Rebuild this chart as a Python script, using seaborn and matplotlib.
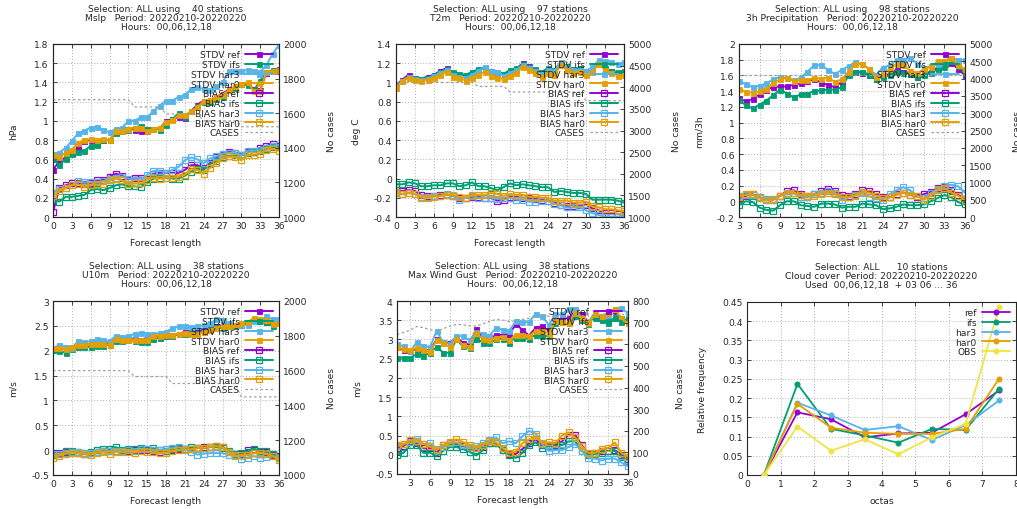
import matplotlib
matplotlib.use("Agg")
import matplotlib.pyplot as plt
import matplotlib.ticker as mticker
import numpy as np
import pandas as pd
import seaborn as sns

# ---- data -----------------------------------------------------------------
models = ['ref', 'ifs', 'har3', 'har0']
colors = {'ref': '#9400D3', 'ifs': '#009E73', 'har3': '#56B4E9',
          'har0': '#E69F00', 'OBS': '#F0E442'}

lead_0_36 = list(range(0, 37))
lead_3_36 = list(range(3, 37))
lead_1_36 = list(range(1, 37))

# Mslp
mslp_stdv_ref = [0.49, 0.58, 0.62, 0.67, 0.73, 0.79, 0.80, 0.77, 0.80, 0.80, 0.88, 0.90, 0.92, 0.91, 0.90, 0.90, 0.92, 0.92, 1.00, 1.02, 1.04, 1.03, 1.10, 1.17, 1.21, 1.22, 1.25, 1.28, 1.33, 1.35, 1.38, 1.38, 1.33, 1.32, 1.50, 1.52, 1.54]
mslp_stdv_ifs = [0.60, 0.54, 0.60, 0.66, 0.68, 0.69, 0.74, 0.75, 0.80, 0.80, 0.87, 0.89, 0.91, 0.93, 0.95, 0.92, 0.92, 0.91, 0.96, 1.02, 1.08, 1.04, 1.10, 1.15, 1.20, 1.20, 1.23, 1.25, 1.32, 1.34, 1.38, 1.37, 1.32, 1.42, 1.51, 1.53, 1.52]
mslp_stdv_har3 = [0.66, 0.67, 0.72, 0.79, 0.87, 0.90, 0.93, 0.94, 0.91, 0.88, 0.92, 0.93, 1.00, 1.00, 1.04, 1.04, 1.10, 1.16, 1.21, 1.21, 1.25, 1.27, 1.33, 1.35, 1.33, 1.32, 1.36, 1.40, 1.52, 1.52, 1.52, 1.53, 1.52, 1.51, 1.58, 1.70, 1.79]
mslp_stdv_har0 = [0.64, 0.62, 0.67, 0.70, 0.77, 0.80, 0.81, 0.80, 0.81, 0.80, 0.89, 0.90, 0.92, 0.93, 0.93, 0.89, 0.92, 0.93, 0.99, 1.01, 1.06, 1.06, 1.10, 1.14, 1.21, 1.22, 1.25, 1.27, 1.32, 1.36, 1.38, 1.40, 1.31, 1.31, 1.51, 1.52, 1.53]
mslp_bias_ref = [0.05, 0.30, 0.33, 0.35, 0.35, 0.34, 0.35, 0.38, 0.39, 0.42, 0.45, 0.43, 0.39, 0.41, 0.41, 0.40, 0.45, 0.46, 0.46, 0.46, 0.46, 0.49, 0.54, 0.54, 0.51, 0.56, 0.62, 0.65, 0.68, 0.67, 0.65, 0.68, 0.68, 0.72, 0.74, 0.76, 0.74]
mslp_bias_ifs = [0.19, 0.16, 0.21, 0.21, 0.22, 0.23, 0.28, 0.29, 0.28, 0.30, 0.33, 0.34, 0.32, 0.32, 0.31, 0.36, 0.40, 0.41, 0.41, 0.40, 0.40, 0.43, 0.47, 0.50, 0.49, 0.55, 0.58, 0.62, 0.63, 0.64, 0.64, 0.67, 0.68, 0.69, 0.71, 0.73, 0.73]
mslp_bias_har3 = [0.25, 0.29, 0.30, 0.33, 0.37, 0.36, 0.36, 0.36, 0.37, 0.40, 0.41, 0.42, 0.40, 0.39, 0.38, 0.44, 0.48, 0.48, 0.46, 0.49, 0.52, 0.59, 0.62, 0.60, 0.56, 0.61, 0.63, 0.66, 0.67, 0.67, 0.64, 0.69, 0.69, 0.70, 0.72, 0.74, 0.75]
mslp_bias_har0 = [0.22, 0.27, 0.30, 0.33, 0.34, 0.31, 0.33, 0.34, 0.34, 0.38, 0.40, 0.38, 0.34, 0.35, 0.35, 0.39, 0.41, 0.40, 0.41, 0.41, 0.42, 0.44, 0.50, 0.49, 0.45, 0.51, 0.56, 0.61, 0.63, 0.62, 0.59, 0.64, 0.65, 0.66, 0.70, 0.71, 0.69]
mslp_cases = [1678] * 13 + [1636] * 5 + [1596] * 6 + [1556] * 6 + [1522] * 7

# T2m
t2m_stdv_ref = [0.97, 1.03, 1.08, 1.05, 1.04, 1.06, 1.08, 1.12, 1.15, 1.10, 1.08, 1.07, 1.10, 1.13, 1.15, 1.12, 1.10, 1.08, 1.12, 1.14, 1.20, 1.17, 1.13, 1.10, 1.14, 1.12, 1.20, 1.16, 1.13, 1.15, 1.11, 1.13, 1.20, 1.14, 1.12, 1.10, 1.11]
t2m_stdv_ifs = [0.96, 1.02, 1.06, 1.05, 1.04, 1.05, 1.08, 1.11, 1.14, 1.11, 1.09, 1.08, 1.11, 1.14, 1.15, 1.12, 1.11, 1.09, 1.13, 1.15, 1.19, 1.16, 1.14, 1.11, 1.15, 1.13, 1.21, 1.17, 1.14, 1.15, 1.12, 1.14, 1.21, 1.15, 1.12, 1.11, 1.12]
t2m_stdv_har3 = [0.95, 1.02, 1.06, 1.04, 1.03, 1.04, 1.07, 1.10, 1.13, 1.08, 1.06, 1.05, 1.08, 1.12, 1.16, 1.12, 1.11, 1.07, 1.10, 1.13, 1.18, 1.15, 1.12, 1.09, 1.13, 1.12, 1.21, 1.16, 1.13, 1.13, 1.12, 1.16, 1.23, 1.22, 1.21, 1.19, 1.21]
t2m_stdv_har0 = [0.94, 1.01, 1.05, 1.03, 1.02, 1.03, 1.05, 1.08, 1.11, 1.06, 1.05, 1.02, 1.05, 1.08, 1.11, 1.07, 1.05, 1.04, 1.07, 1.10, 1.16, 1.13, 1.10, 1.06, 1.10, 1.08, 1.18, 1.13, 1.10, 1.11, 1.08, 1.11, 1.19, 1.13, 1.10, 1.07, 1.08]
t2m_bias_ref = [-0.12, -0.13, -0.12, -0.13, -0.17, -0.18, -0.18, -0.17, -0.17, -0.18, -0.20, -0.20, -0.19, -0.19, -0.20, -0.20, -0.23, -0.22, -0.19, -0.19, -0.20, -0.20, -0.21, -0.22, -0.23, -0.25, -0.27, -0.29, -0.29, -0.28, -0.27, -0.31, -0.33, -0.36, -0.36, -0.37, -0.38]
t2m_bias_ifs = [-0.06, -0.06, -0.04, -0.05, -0.08, -0.08, -0.07, -0.07, -0.05, -0.05, -0.08, -0.07, -0.04, -0.08, -0.08, -0.10, -0.12, -0.09, -0.05, -0.07, -0.06, -0.07, -0.08, -0.09, -0.09, -0.14, -0.13, -0.14, -0.15, -0.15, -0.16, -0.22, -0.22, -0.22, -0.22, -0.23, -0.25]
t2m_bias_har3 = [-0.15, -0.16, -0.15, -0.16, -0.19, -0.19, -0.18, -0.18, -0.16, -0.18, -0.22, -0.20, -0.18, -0.20, -0.20, -0.20, -0.21, -0.20, -0.20, -0.22, -0.22, -0.24, -0.24, -0.23, -0.23, -0.26, -0.28, -0.30, -0.30, -0.30, -0.33, -0.36, -0.38, -0.40, -0.40, -0.40, -0.39]
t2m_bias_har0 = [-0.14, -0.16, -0.15, -0.16, -0.20, -0.20, -0.19, -0.18, -0.17, -0.17, -0.19, -0.20, -0.17, -0.17, -0.17, -0.15, -0.16, -0.18, -0.16, -0.17, -0.17, -0.19, -0.19, -0.20, -0.20, -0.23, -0.23, -0.23, -0.25, -0.25, -0.24, -0.29, -0.30, -0.32, -0.32, -0.33, -0.34]
t2m_cases = [4110] * 13 + [4020] * 5 + [3890] * 12 + [3690] * 7

# 3h Precipitation
pcp_stdv_ref = [1.31, 1.27, 1.30, 1.36, 1.42, 1.45, 1.46, 1.46, 1.48, 1.50, 1.53, 1.55, 1.51, 1.48, 1.45, 1.52, 1.62, 1.65, 1.63, 1.60, 1.55, 1.60, 1.62, 1.67, 1.65, 1.63, 1.58, 1.62, 1.65, 1.70, 1.74, 1.76, 1.68, 1.60]
pcp_stdv_ifs = [1.29, 1.22, 1.18, 1.23, 1.28, 1.35, 1.42, 1.37, 1.32, 1.36, 1.37, 1.40, 1.41, 1.42, 1.42, 1.45, 1.60, 1.65, 1.65, 1.61, 1.56, 1.58, 1.60, 1.65, 1.63, 1.62, 1.58, 1.60, 1.63, 1.68, 1.71, 1.78, 1.72, 1.63]
pcp_stdv_har3 = [1.53, 1.49, 1.45, 1.47, 1.50, 1.55, 1.58, 1.57, 1.54, 1.57, 1.65, 1.73, 1.73, 1.67, 1.62, 1.67, 1.72, 1.77, 1.74, 1.68, 1.61, 1.70, 1.73, 1.80, 1.80, 1.82, 1.75, 1.70, 1.72, 1.74, 1.76, 1.82, 1.80, 1.80]
pcp_stdv_har0 = [1.43, 1.39, 1.38, 1.40, 1.43, 1.50, 1.55, 1.57, 1.53, 1.54, 1.54, 1.57, 1.56, 1.57, 1.52, 1.55, 1.65, 1.75, 1.75, 1.68, 1.58, 1.62, 1.68, 1.75, 1.73, 1.66, 1.63, 1.68, 1.71, 1.78, 1.79, 1.82, 1.73, 1.68]
pcp_bias_ref = [0.04, 0.07, 0.09, 0.05, 0.02, 0.02, 0.07, 0.13, 0.14, 0.09, 0.07, 0.09, 0.13, 0.16, 0.13, 0.08, 0.07, 0.09, 0.14, 0.13, 0.09, 0.06, 0.05, 0.09, 0.11, 0.08, 0.06, 0.09, 0.12, 0.17, 0.18, 0.14, 0.08, 0.03]
pcp_bias_ifs = [-0.05, 0.00, -0.01, -0.08, -0.11, -0.12, -0.05, 0.00, 0.00, -0.05, -0.06, -0.07, -0.03, -0.03, -0.04, -0.08, -0.07, -0.07, -0.03, -0.04, -0.05, -0.10, -0.09, -0.07, -0.04, -0.05, -0.05, -0.04, 0.00, 0.04, 0.08, 0.05, -0.01, -0.04]
pcp_bias_har3 = [0.07, 0.08, 0.08, 0.05, 0.03, 0.03, 0.07, 0.09, 0.10, 0.06, 0.05, 0.09, 0.11, 0.13, 0.11, 0.02, 0.05, 0.08, 0.10, 0.06, 0.04, 0.02, 0.09, 0.14, 0.18, 0.14, 0.07, 0.04, 0.10, 0.16, 0.20, 0.21, 0.19, 0.11]
pcp_bias_har0 = [0.05, 0.09, 0.09, 0.04, 0.01, 0.02, 0.07, 0.11, 0.11, 0.08, 0.07, 0.07, 0.09, 0.11, 0.09, 0.06, 0.05, 0.07, 0.12, 0.11, 0.07, 0.04, 0.05, 0.08, 0.11, 0.08, 0.07, 0.02, 0.07, 0.14, 0.17, 0.11, 0.07, 0.02]
pcp_cases = [4110] * 34

# U10m
u10_stdv_ref = [2.04, 2.06, 2.03, 2.07, 2.10, 2.12, 2.13, 2.16, 2.16, 2.14, 2.25, 2.22, 2.24, 2.24, 2.22, 2.26, 2.28, 2.28, 2.29, 2.31, 2.34, 2.38, 2.37, 2.40, 2.42, 2.46, 2.50, 2.51, 2.52, 2.50, 2.51, 2.56, 2.61, 2.61, 2.57, 2.55, 2.57]
u10_stdv_ifs = [2.02, 2.00, 1.96, 2.04, 2.07, 2.07, 2.08, 2.09, 2.10, 2.12, 2.19, 2.20, 2.21, 2.20, 2.17, 2.17, 2.24, 2.26, 2.30, 2.29, 2.33, 2.34, 2.35, 2.36, 2.38, 2.43, 2.47, 2.46, 2.50, 2.50, 2.52, 2.57, 2.62, 2.61, 2.57, 2.50, 2.57]
u10_stdv_har3 = [2.05, 2.12, 2.08, 2.06, 2.19, 2.17, 2.19, 2.23, 2.21, 2.19, 2.30, 2.28, 2.29, 2.34, 2.36, 2.34, 2.33, 2.35, 2.38, 2.45, 2.49, 2.50, 2.47, 2.49, 2.51, 2.55, 2.63, 2.61, 2.56, 2.51, 2.52, 2.51, 2.60, 2.60, 2.69, 2.63, 2.63]
u10_stdv_har0 = [2.06, 2.05, 2.04, 2.08, 2.12, 2.11, 2.13, 2.14, 2.14, 2.12, 2.24, 2.22, 2.21, 2.22, 2.21, 2.22, 2.30, 2.30, 2.31, 2.31, 2.34, 2.35, 2.33, 2.33, 2.37, 2.41, 2.46, 2.50, 2.50, 2.51, 2.55, 2.58, 2.66, 2.64, 2.62, 2.54, 2.55]
u10_bias_ref = [-0.06, -0.06, -0.04, -0.04, -0.06, -0.08, -0.06, -0.03, -0.02, -0.02, -0.02, -0.02, -0.01, 0.00, 0.00, 0.00, -0.02, -0.04, -0.02, 0.01, 0.03, 0.03, 0.02, 0.04, 0.06, 0.06, 0.08, 0.07, -0.04, -0.08, -0.07, 0.00, 0.01, -0.04, -0.03, -0.10, -0.12]
u10_bias_ifs = [-0.10, -0.07, -0.01, -0.02, -0.03, -0.06, -0.04, 0.00, 0.02, 0.02, 0.06, 0.01, 0.02, 0.02, 0.04, 0.03, 0.04, 0.00, -0.02, 0.02, 0.04, 0.02, 0.06, 0.05, 0.04, 0.07, 0.06, 0.05, -0.02, -0.07, -0.06, -0.03, 0.03, -0.02, -0.02, -0.08, -0.13]
u10_bias_har3 = [-0.08, -0.07, -0.06, -0.03, -0.04, -0.05, -0.05, -0.04, -0.02, -0.02, -0.01, -0.01, 0.00, -0.01, 0.02, 0.02, 0.00, 0.00, 0.02, 0.04, 0.06, 0.03, -0.03, -0.09, -0.07, -0.06, -0.06, -0.06, -0.09, -0.10, -0.18, -0.15, -0.12, -0.15, -0.14, -0.12, -0.15]
u10_bias_har0 = [-0.15, -0.11, -0.07, -0.05, -0.06, -0.08, -0.09, -0.05, -0.04, -0.07, -0.03, -0.04, -0.03, -0.05, -0.02, -0.03, -0.04, -0.05, -0.05, -0.01, 0.00, 0.00, 0.02, 0.04, 0.05, 0.06, 0.08, 0.06, -0.03, -0.12, -0.10, -0.09, -0.06, -0.05, -0.08, -0.12, -0.20]
u10_cases = [1600] * 13 + [1566] * 6 + [1526] * 11 + [1449] * 7

# Max Wind Gust
gust_stdv_ref = [2.80, 2.72, 2.70, 2.75, 2.72, 2.72, 3.00, 2.93, 2.92, 3.05, 2.92, 2.86, 3.28, 3.05, 3.00, 3.12, 3.12, 3.12, 3.40, 3.25, 3.10, 3.30, 3.35, 3.22, 3.50, 3.55, 3.55, 3.75, 3.65, 3.45, 3.60, 3.60, 3.70, 3.75, 3.55, 3.45]
gust_stdv_ifs = [2.52, 2.53, 2.52, 2.62, 2.58, 2.65, 2.80, 2.66, 2.65, 3.00, 2.82, 2.77, 3.02, 2.92, 2.90, 3.00, 3.02, 2.92, 3.05, 3.05, 3.02, 3.12, 3.10, 3.08, 3.42, 3.45, 3.42, 3.60, 3.50, 3.40, 3.62, 3.50, 3.42, 3.58, 3.45, 3.55]
gust_stdv_har3 = [2.88, 2.82, 2.70, 2.93, 2.83, 2.80, 3.22, 2.93, 2.88, 3.10, 3.08, 2.98, 3.20, 3.15, 3.10, 3.30, 3.25, 3.22, 3.48, 3.45, 3.45, 3.67, 3.60, 3.38, 3.65, 3.65, 3.80, 3.80, 3.55, 3.45, 3.70, 3.60, 3.60, 3.80, 3.82, 3.68]
gust_stdv_har0 = [2.80, 2.75, 2.73, 2.78, 2.73, 2.68, 2.98, 2.90, 2.80, 3.02, 2.86, 2.80, 3.18, 3.00, 2.98, 3.05, 3.07, 2.98, 3.12, 3.12, 3.08, 3.22, 3.22, 3.15, 3.48, 3.45, 3.42, 3.70, 3.55, 3.42, 3.65, 3.62, 3.68, 3.80, 3.55, 3.42]
gust_bias_ref = [0.18, 0.23, 0.35, 0.30, 0.17, 0.17, 0.05, 0.25, 0.30, 0.30, 0.22, 0.20, 0.12, 0.20, 0.30, 0.30, 0.12, 0.02, 0.02, 0.15, 0.30, 0.40, 0.25, 0.25, 0.25, 0.35, 0.52, 0.52, 0.25, 0.02, 0.05, 0.10, 0.10, 0.12, 0.00, -0.10]
gust_bias_ifs = [0.00, 0.05, 0.25, 0.25, 0.05, 0.05, -0.03, 0.10, 0.20, 0.20, 0.15, 0.08, -0.02, 0.12, 0.30, 0.30, 0.12, 0.00, -0.08, 0.05, 0.25, 0.32, 0.18, 0.22, 0.22, 0.25, 0.35, 0.35, 0.10, 0.00, 0.02, 0.05, 0.10, 0.10, -0.05, -0.15]
gust_bias_har3 = [0.22, 0.27, 0.32, 0.42, 0.28, 0.30, 0.15, 0.20, 0.30, 0.32, 0.25, 0.20, 0.22, 0.30, 0.38, 0.45, 0.30, 0.35, 0.30, 0.48, 0.62, 0.55, 0.28, 0.10, 0.12, 0.12, 0.20, 0.28, 0.10, -0.08, -0.10, -0.15, -0.10, -0.10, -0.20, -0.30]
gust_bias_har0 = [0.25, 0.28, 0.38, 0.37, 0.28, 0.22, 0.12, 0.25, 0.32, 0.40, 0.33, 0.25, 0.18, 0.25, 0.35, 0.32, 0.18, 0.05, 0.08, 0.30, 0.40, 0.48, 0.30, 0.32, 0.30, 0.50, 0.58, 0.45, 0.22, 0.05, 0.05, 0.15, 0.18, 0.32, 0.05, -0.05]
gust_cases = [645, 655, 665, 682, 677, 668, 660, 672, 684, 692, 690, 685, 684, 694, 705, 715, 712, 705, 708, 715, 720, 725, 730, 730, 730, 732, 732, 734, 734, 735, 735, 736, 736, 737, 737, 738]

# Cloud cover
octas = [0.5, 1.5, 2.5, 3.5, 4.5, 5.5, 6.5, 7.5]
cc_ref = [0.0, 0.163, 0.145, 0.098, 0.108, 0.110, 0.158, 0.220]
cc_ifs = [0.0, 0.237, 0.120, 0.103, 0.084, 0.120, 0.117, 0.225]
cc_har3 = [0.0, 0.188, 0.155, 0.117, 0.127, 0.091, 0.130, 0.194]
cc_har0 = [0.0, 0.185, 0.123, 0.110, 0.107, 0.107, 0.120, 0.251]
cc_obs = [0.0, 0.126, 0.063, 0.093, 0.054, 0.098, 0.133, 0.438]

# ---- style ----------------------------------------------------------------
sns.set_style("ticks")
plt.rcParams['font.family'] = ['DejaVu Sans']
FS = 6.6
plt.rcParams['font.size'] = FS
plt.rcParams['axes.linewidth'] = 0.8

W, H = 1017, 510
fig = plt.figure(figsize=(W / 100, H / 100), dpi=100)


def add_axes(l, t, r, b):
    return fig.add_axes([l / W, 1 - b / H, (r - l) / W, (b - t) / H])


gfmt = mticker.FuncFormatter(lambda v, p: '%g' % round(v, 6))


def style_axes(ax, xlim, xticks, ylim, yticks):
    ax.set_xlim(*xlim)
    ax.set_ylim(*ylim)
    ax.set_xticks(xticks)
    ax.set_yticks(yticks)
    ax.xaxis.set_major_formatter(gfmt)
    ax.yaxis.set_major_formatter(gfmt)
    ax.grid(True, ls=(0, (1, 2)), color='#b0b0b0', lw=0.7)
    ax.tick_params(direction='in', length=3, width=0.6, top=True, right=False,
                   labelsize=FS, pad=3)
    for s in ax.spines.values():
        s.set_visible(True)


def legend_kw():
    return dict(loc='upper right', frameon=False, markerfirst=False,
                handlelength=3.0, handletextpad=0.6, labelspacing=0.08,
                borderaxespad=0.3, fontsize=FS)


def score_panel(ax, x, stdv, bias, cases, title, ylabel, ylim, yticks,
                y2lim, y2ticks, xlim, xticks):
    wpx = ax.get_position().width * W
    handles = []
    for m in models:
        sns.lineplot(x=x, y=stdv[m], ax=ax, color=colors[m], lw=1.4,
                     marker='s', markersize=3.6, markerfacecolor=colors[m],
                     markeredgecolor=colors[m], markeredgewidth=0.6,
                     legend=False, zorder=3)
        handles.append((ax.lines[-1], 'STDV ' + m))
    for m in models:
        sns.lineplot(x=x, y=bias[m], ax=ax, color=colors[m], lw=1.4,
                     marker='s', markersize=4.0, markerfacecolor='none',
                     markeredgecolor=colors[m], markeredgewidth=0.9,
                     legend=False, zorder=3)
        handles.append((ax.lines[-1], 'BIAS ' + m))
    style_axes(ax, xlim, xticks, ylim, yticks)
    ax.set_xlabel('Forecast length', fontsize=FS, labelpad=6)
    ax.set_ylabel(ylabel, fontsize=FS)
    ax.yaxis.set_label_coords(-35 / wpx, 0.5)
    ax.set_title(title, fontsize=FS, linespacing=1.0, pad=11)

    ax2 = ax.twinx()
    sns.lineplot(x=x, y=cases, ax=ax2, color='#a0a0a0', lw=0.9,
                 linestyle=(0, (2, 2)), legend=False)
    handles.append((ax2.lines[-1], 'CASES'))
    ax2.set_ylim(*y2lim)
    ax2.set_yticks(y2ticks)
    ax2.yaxis.set_major_formatter(gfmt)
    ax2.tick_params(direction='in', length=3, width=0.6, labelsize=FS, pad=3)
    ax2.set_ylabel('No cases', fontsize=FS)
    ax2.yaxis.set_label_coords(1 + 48 / wpx, 0.5)
    ax2.legend([h for h, _ in handles], [l for _, l in handles], **legend_kw())
    return ax2


# Panel 1: Mslp
ax = add_axes(53, 45, 279, 218)
score_panel(ax, lead_0_36,
            {'ref': mslp_stdv_ref, 'ifs': mslp_stdv_ifs, 'har3': mslp_stdv_har3, 'har0': mslp_stdv_har0},
            {'ref': mslp_bias_ref, 'ifs': mslp_bias_ifs, 'har3': mslp_bias_har3, 'har0': mslp_bias_har0},
            mslp_cases,
            'Selection: ALL using    40 stations\nMslp   Period: 20220210-20220220\nHours:  00,06,12,18',
            'hPa', (0, 1.8), np.arange(0, 1.81, 0.2), (1000, 2000), np.arange(1000, 2001, 200),
            (0, 36), range(0, 37, 3))

# Panel 2: T2m
ax = add_axes(396, 45, 624, 218)
score_panel(ax, lead_0_36,
            {'ref': t2m_stdv_ref, 'ifs': t2m_stdv_ifs, 'har3': t2m_stdv_har3, 'har0': t2m_stdv_har0},
            {'ref': t2m_bias_ref, 'ifs': t2m_bias_ifs, 'har3': t2m_bias_har3, 'har0': t2m_bias_har0},
            t2m_cases,
            'Selection: ALL using    97 stations\nT2m   Period: 20220210-20220220\nHours:  00,06,12,18',
            'deg C', (-0.4, 1.4), np.arange(-0.4, 1.41, 0.2), (1000, 5000), np.arange(1000, 5001, 500),
            (0, 36), range(0, 37, 3))

# Panel 3: 3h Precipitation
ax = add_axes(739, 45, 965, 218)
score_panel(ax, lead_3_36,
            {'ref': pcp_stdv_ref, 'ifs': pcp_stdv_ifs, 'har3': pcp_stdv_har3, 'har0': pcp_stdv_har0},
            {'ref': pcp_bias_ref, 'ifs': pcp_bias_ifs, 'har3': pcp_bias_har3, 'har0': pcp_bias_har0},
            pcp_cases,
            'Selection: ALL using    98 stations\n3h Precipitation   Period: 20220210-20220220\nHours:  00,06,12,18',
            'mm/3h', (-0.2, 2.0), np.arange(-0.2, 2.01, 0.2), (0, 5000), np.arange(0, 5001, 500),
            (3, 36), range(3, 37, 3))

# Panel 4: U10m
ax = add_axes(53, 302, 279, 476)
score_panel(ax, lead_0_36,
            {'ref': u10_stdv_ref, 'ifs': u10_stdv_ifs, 'har3': u10_stdv_har3, 'har0': u10_stdv_har0},
            {'ref': u10_bias_ref, 'ifs': u10_bias_ifs, 'har3': u10_bias_har3, 'har0': u10_bias_har0},
            u10_cases,
            'Selection: ALL using    38 stations\nU10m   Period: 20220210-20220220\nHours:  00,06,12,18',
            'm/s', (-0.5, 3.0), np.arange(-0.5, 3.01, 0.5), (1000, 2000), np.arange(1000, 2001, 200),
            (0, 36), range(0, 37, 3))

# Panel 5: Max Wind Gust
ax = add_axes(397, 302, 628, 475)
score_panel(ax, lead_1_36,
            {'ref': gust_stdv_ref, 'ifs': gust_stdv_ifs, 'har3': gust_stdv_har3, 'har0': gust_stdv_har0},
            {'ref': gust_bias_ref, 'ifs': gust_bias_ifs, 'har3': gust_bias_har3, 'har0': gust_bias_har0},
            gust_cases,
            'Selection: ALL using    38 stations\nMax Wind Gust   Period: 20220210-20220220\nHours:  00,06,12,18',
            'm/s', (-0.5, 4.0), np.arange(-0.5, 4.01, 0.5), (0, 800), np.arange(0, 801, 100),
            (1, 36), range(3, 37, 3))

# Panel 6: Cloud cover frequency
ax = add_axes(747, 303, 1016, 476)
cc = {'ref': cc_ref, 'ifs': cc_ifs, 'har3': cc_har3, 'har0': cc_har0, 'OBS': cc_obs}
for name, vals in cc.items():
    sns.lineplot(x=octas, y=vals, ax=ax, color=colors[name], lw=1.3, marker='o',
                 markersize=3.6, markerfacecolor=colors[name],
                 markeredgecolor=colors[name], label=name, zorder=3)
style_axes(ax, (0, 8), range(0, 9), (0, 0.45), np.arange(0, 0.451, 0.05))
ax.tick_params(right=True)
ax.set_xlabel('octas', fontsize=FS, labelpad=6)
ax.set_ylabel('Relative frequency', fontsize=FS)
ax.yaxis.set_label_coords(-40 / 269, 0.5)
ax.set_title('Selection: ALL      10 stations\nCloud cover  Period: 20220210-20220220\nUsed  00,06,12,18  + 03 06 ... 36',
             fontsize=FS, linespacing=1.0, pad=11)
ax.legend(**legend_kw())

fig.savefig('out.png', dpi=100)
